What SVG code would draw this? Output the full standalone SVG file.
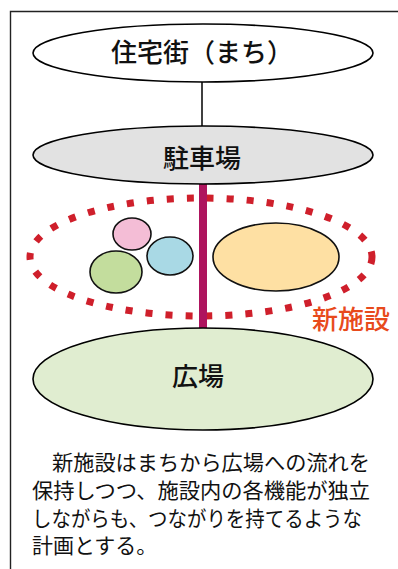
<svg xmlns="http://www.w3.org/2000/svg" width="398" height="569" viewBox="0 0 398 569">
<style>
.node{stroke:#000;stroke-width:1.6}
.lbl{font-family:"Noto Sans CJK JP","Noto Sans",sans-serif;font-size:26px;font-weight:500;fill:#111;text-anchor:middle}
.body{font-family:"Liberation Serif","Noto Sans CJK JP",serif;font-size:21px;fill:#111}
.sub{stroke:#111;stroke-width:1.6}
</style>
<rect width="398" height="569" fill="#fff"/>
<path d="M10.5 569 V11.5 H398" fill="none" stroke="#222" stroke-width="1.4"/>
<g id="connectors">
<line x1="202" y1="82" x2="202" y2="126" stroke="#000" stroke-width="1.5"/>
</g>
<g id="new-facility">
<ellipse cx="201" cy="257" rx="171" ry="59" fill="none" stroke="#cf1f2b" stroke-width="7" stroke-dasharray="7 13"/>
<text x="351" y="329" class="lbl" style="fill:#e84a1c">新施設</text>
</g>
<g id="func-pink"><ellipse cx="132" cy="234" rx="19" ry="16" class="sub" fill="#f4bdd6"/></g>
<g id="func-blue"><ellipse cx="170" cy="256" rx="23" ry="19" class="sub" fill="#a9d9e5"/></g>
<g id="func-green"><ellipse cx="116" cy="272" rx="26" ry="21" class="sub" fill="#c3dd9d"/></g>
<g id="func-orange"><ellipse cx="276" cy="257" rx="63" ry="34" class="sub" fill="#fee0a3"/></g>
<g id="connectors-flow">
<rect x="199" y="184" width="8" height="145" fill="#ae145e"/>
</g>
<g id="machi">
<ellipse cx="203" cy="53" rx="170" ry="29" class="node" fill="#fff"/>
<text x="202" y="62" class="lbl">住宅街（まち）</text>
</g>
<g id="parking">
<ellipse cx="203" cy="155" rx="170" ry="29" class="node" fill="#e2e2e2"/>
<text x="202" y="168" class="lbl">駐車場</text>
</g>
<g id="plaza">
<ellipse cx="203" cy="379" rx="170" ry="51" class="node" fill="#e0edd0"/>
<text x="198" y="386" class="lbl">広場</text>
</g>
<g id="caption">
<text x="52" y="470" class="body" textLength="318" lengthAdjust="spacingAndGlyphs">新施設はまちから広場への流れを</text>
<text x="32" y="498" class="body" textLength="338" lengthAdjust="spacingAndGlyphs">保持しつつ、施設内の各機能が独立</text>
<text x="32" y="526" class="body" textLength="330" lengthAdjust="spacingAndGlyphs">しながらも、つながりを持てるような</text>
<text x="32" y="553" class="body">計画とする。</text>
</g>
</svg>
